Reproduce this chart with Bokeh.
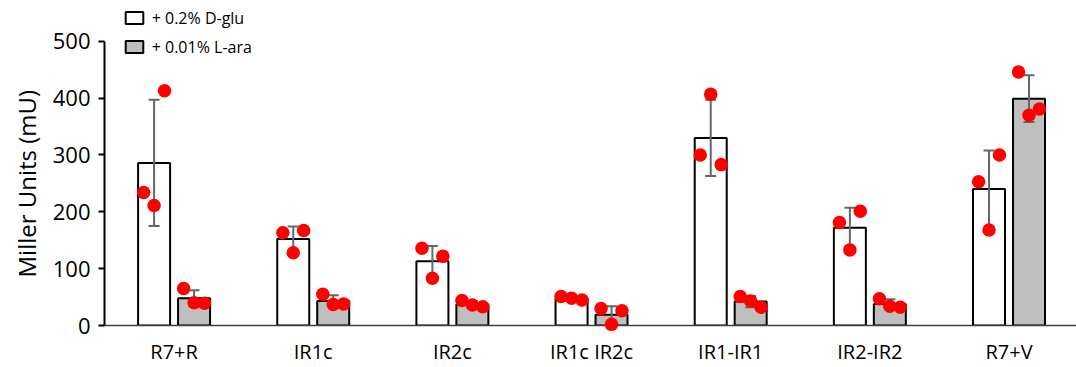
import numpy as np
from bokeh.plotting import figure
from bokeh.models import (ColumnDataSource, Range1d, FixedTicker, Whisker, TeeHead,
                          Legend, LegendItem, Title)
from bokeh.embed import file_html
from bokeh.resources import INLINE

# ---------------- data ----------------
categories = ["R7+R", "IR1c", "IR2c", "IR1c IR2c", "IR1-IR1", "IR2-IR2", "R7+V"]
series_names = ["+ 0.2% D-glu", "+ 0.01% L-ara"]
y_title = "Miller Units (mU)"

glu_mean = [286, 152, 113, 48, 330, 172, 240]
glu_sd = [111, 22, 27, 3, 67, 35, 68]
ara_mean = [48, 43, 37, 19, 42, 38, 399]
ara_sd = [14, 10, 5, 15, 10, 8, 41]

glu_points = [[234, 211, 413], [163, 128, 167], [136, 83, 122], [51, 48, 45],
              [300, 407, 283], [181, 133, 201], [253, 168, 300]]
ara_points = [[65, 40, 39], [55, 37, 38], [44, 36, 33], [30, 2, 26],
              [51, 43, 32], [47, 34, 32], [446, 370, 381]]

y_ticks = [0, 100, 200, 300, 400, 500]

# ---------------- layout / style ----------------
FONT = "Open Sans"
n = len(categories)
centers = np.arange(n) + 0.5
off = 0.1436
bw = 0.23
jit = [-0.075, 0.0, 0.075]

p = figure(width=1076, height=367, x_range=Range1d(0, 6.985), y_range=Range1d(0, 571.7),
           output_backend="svg", toolbar_location=None,
           min_border_left=103, min_border_right=0, min_border_top=0, min_border_bottom=40)
p.outline_line_color = None
p.xgrid.visible = False
p.ygrid.visible = False
p.background_fill_color = "white"

glu_src = ColumnDataSource(dict(
    x=centers - off, top=glu_mean,
    upper=np.array(glu_mean) + np.array(glu_sd),
    lower=np.array(glu_mean) - np.array(glu_sd)))
ara_src = ColumnDataSource(dict(
    x=centers + off, top=ara_mean,
    upper=np.array(ara_mean) + np.array(ara_sd),
    lower=np.array(ara_mean) - np.array(ara_sd)))

r_glu = p.vbar(x="x", top="top", width=bw, source=glu_src,
               fill_color="white", line_color="black", line_width=2)
r_ara = p.vbar(x="x", top="top", width=bw, source=ara_src,
               fill_color="#bfbfbf", line_color="black", line_width=2)

EC = "#666666"
for src in (glu_src, ara_src):
    w = Whisker(source=src, base="x", upper="upper", lower="lower",
                line_color=EC, line_width=2,
                upper_head=TeeHead(size=11, line_color=EC, line_width=2),
                lower_head=TeeHead(size=11, line_color=EC, line_width=2))
    w.level = "glyph"
    p.add_layout(w)

px, py = [], []
for i in range(n):
    for j, v in zip(jit, glu_points[i]):
        px.append(centers[i] - off + j)
        py.append(v)
    for j, v in zip(jit, ara_points[i]):
        px.append(centers[i] + off + j)
        py.append(v)
p.scatter(px, py, size=13.5, fill_color="#ff0000", line_color=None, level="overlay")

# axes
yax = p.yaxis[0]
yax.ticker = FixedTicker(ticks=y_ticks)
yax.bounds = (0, 500)
yax.axis_line_color = "black"
yax.axis_line_width = 2
yax.major_tick_line_color = "black"
yax.major_tick_line_width = 2
yax.major_tick_out = 6
yax.major_tick_in = 0
yax.minor_tick_line_color = None
yax.major_label_text_font = FONT
yax.major_label_text_font_size = "22px"
yax.major_label_text_color = "black"
yax.major_label_standoff = 8

# y title as a left-panel title, centred on the 0-500 span of the axis
ytitle = Title(text=y_title, align="left", vertical_align="bottom", offset=48,
               standoff=14, text_font=FONT, text_font_size="24px",
               text_font_style="normal", text_color="black")
p.add_layout(ytitle, "left")

xax = p.xaxis[0]
xax.ticker = FixedTicker(ticks=list(centers))
xax.major_label_overrides = {float(c): lab for c, lab in zip(centers, categories)}
xax.axis_line_color = "#404040"
xax.axis_line_width = 1.5
xax.major_tick_line_color = None
xax.major_tick_out = 0
xax.major_tick_in = 0
xax.minor_tick_line_color = None
xax.major_label_text_font = FONT
xax.major_label_text_font_size = "20px"
xax.major_label_text_color = "black"
xax.major_label_standoff = 12

legend = Legend(items=[LegendItem(label=series_names[0], renderers=[r_glu]),
                       LegendItem(label=series_names[1], renderers=[r_ara])],
                location=(18.7, 267.1), padding=0, margin=0, spacing=7,
                glyph_width=22, glyph_height=15, label_height=20, label_standoff=7,
                label_text_font=FONT, label_text_font_size="16px",
                label_text_color="black",
                border_line_color=None, background_fill_alpha=0)
p.add_layout(legend)

open("out.html", "w").write(file_html(p, INLINE))
